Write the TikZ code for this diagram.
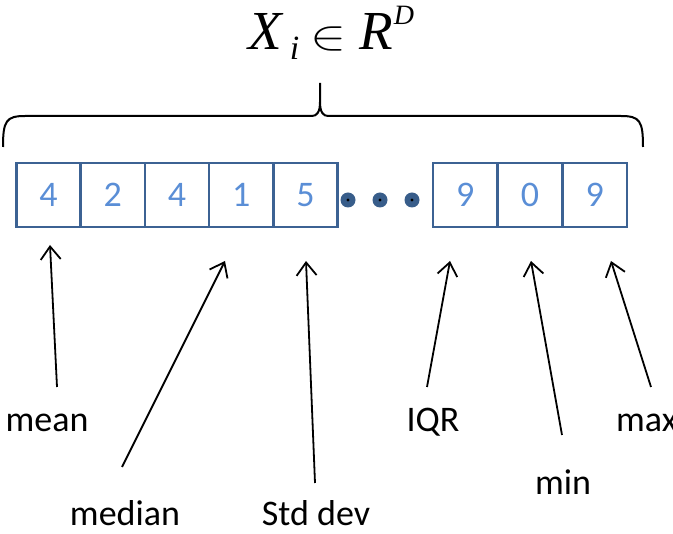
\documentclass[tikz,border=0pt]{standalone}
\usepackage{fontspec}
\usepackage{graphicx}
\setmainfont{Carlito}
\newfontfamily\titlefont{Liberation Serif}
\usepackage{xcolor}
\usetikzlibrary{arrows.meta,positioning}
\definecolor{cellc}{HTML}{3C6293}
\definecolor{digc}{HTML}{5A8ED6}
\definecolor{dotc}{HTML}{385D8A}
\tikzset{
  cell/.style={draw=cellc,line width=2.4pt,minimum width=64.3pt,minimum height=64.3pt,inner sep=0pt,outer sep=0pt,text=digc,font=\fontsize{36}{36}\selectfont},
  lbl/.style={inner sep=0pt,anchor=base,font=\fontsize{36}{36}\selectfont},
  arr/.style={-{Straight Barb[length=13pt,width=20pt,line width=1.8pt]},line width=1.8pt}
}
\begin{document}
\begin{tikzpicture}[x=1pt,y=-1pt]
\useasboundingbox (0,0) rectangle (673,534);
\clip (0,0) rectangle (673,534);
% title and brace
\node[inner sep=0pt,anchor=base west] (title) at (248,50) {\titlefont\itshape\fontsize{55}{55}\selectfont X\kern8pt\raisebox{-10pt}{\fontsize{34}{34}\selectfont i}\kern11pt\scalebox{5.4}[4.2]{\normalsize$\in$}\kern13pt R\kern1pt\raisebox{25pt}{\fontsize{28}{28}\selectfont D}};
\draw[line width=2pt] (3,147) .. controls (3,121) and (6,116) .. (25,116) -- (312,116)
  .. controls (317,116) and (320,112) .. (320,102) -- (320,83)
  (320,102) .. controls (320,112) and (323,116) .. (328,116) -- (621,116)
  .. controls (640,116) and (643,121) .. (643,147);
% cells
\foreach \v [count=\i] in {4,2,4,1,5}
  \node[cell] (c\i) at ({16.5+64.2*(\i-0.5)},195) {\v};
\foreach \v [count=\i from 6] in {9,0,9}
  \node[cell] (c\i) at ({433+64.7*(\i-5.5)},195) {\v};
\foreach \x in {348,380,412}{
  \fill[dotc] (\x,200) circle (7.5pt);
  \fill[black] (\x,200) circle (1.6pt);
}
% labels
\node[lbl] (mean) at (47,432) {mean};
\node[lbl] (median) at (125,526) {median};
\node[lbl] (std) at (316,526) {Std dev};
\node[lbl] (iqr) at (433,432) {IQR};
\node[lbl] (min) at (563,495) {min};
\node[lbl,anchor=base west] (max) at (616,432) {max};
% arrows
\coordinate (tmean) at (57,387);   \coordinate (hmean) at (50,245);
\coordinate (tmedian) at (122,467); \coordinate (hmedian) at (225,261);
\coordinate (tstd) at (315,483);    \coordinate (hstd) at (306,261);
\coordinate (tiqr) at (427,387);    \coordinate (hiqr) at (450,261);
\coordinate (tmin) at (562,435);    \coordinate (hmin) at (531,261);
\coordinate (tmax) at (651,387);    \coordinate (hmax) at (611,261);
\foreach \n in {mean,median,std,iqr,min,max}
  \draw[arr] (t\n) -- (h\n);
\end{tikzpicture}
\end{document}
